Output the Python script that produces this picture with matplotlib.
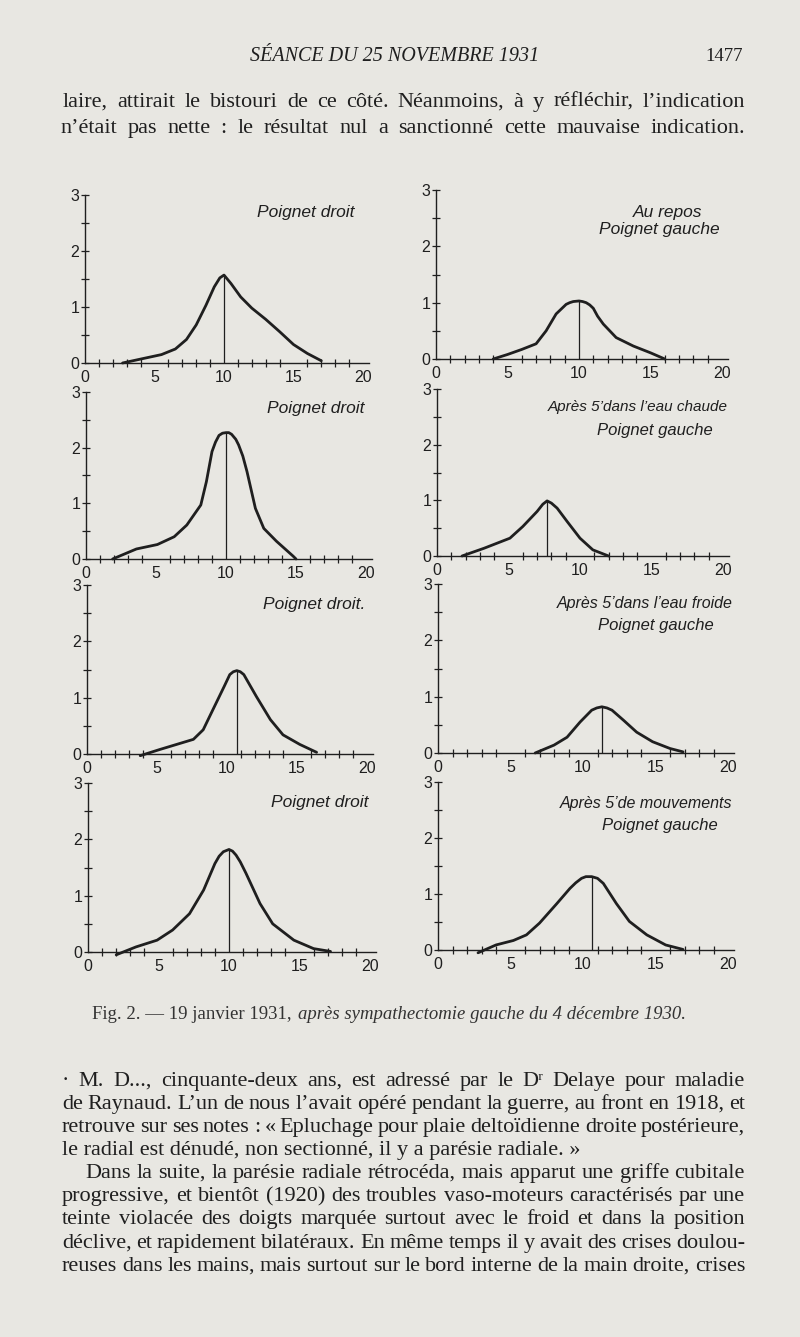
import matplotlib.pyplot as plt
from matplotlib.ticker import MultipleLocator

# --- curve data (x: 0-20 scale, y: 0-3 scale) ---
repos_droit_x = [2.7, 4.0, 5.5, 6.5, 7.3, 8.0, 8.7, 9.3, 9.7, 10.0, 10.5, 11.2, 12.0, 13.0, 14.0, 15.0, 16.0, 17.0]
repos_droit_y = [0.0, 0.07, 0.15, 0.25, 0.42, 0.68, 1.03, 1.36, 1.52, 1.57, 1.42, 1.18, 0.98, 0.78, 0.56, 0.33, 0.17, 0.04]
repos_gauche_x = [4.0, 5.0, 6.0, 7.0, 7.7, 8.4, 9.1, 9.35, 9.6, 10.0, 10.25, 10.5, 10.75, 11.0, 11.3, 11.7, 12.6, 13.8, 15.0, 16.0]
repos_gauche_y = [0.0, 0.08, 0.17, 0.27, 0.5, 0.8, 0.97, 1.0, 1.02, 1.03, 1.02, 1.0, 0.96, 0.9, 0.76, 0.62, 0.38, 0.23, 0.11, 0.0]

chaude_droit_x = [1.9, 3.6, 5.1, 6.3, 7.2, 8.2, 8.6, 9.0, 9.25, 9.5, 9.75, 10.0, 10.2, 10.4, 10.7, 10.9, 11.2, 11.5, 12.1, 12.7, 13.6, 14.8, 15.0]
chaude_droit_y = [0.0, 0.18, 0.26, 0.4, 0.61, 0.97, 1.39, 1.93, 2.1, 2.22, 2.26, 2.27, 2.27, 2.24, 2.15, 2.05, 1.85, 1.57, 0.91, 0.55, 0.32, 0.05, 0.0]
chaude_gauche_x = [1.75, 3.3, 5.1, 6.0, 7.0, 7.4, 7.7, 8.0, 8.4, 9.1, 10.0, 10.9, 12.0]
chaude_gauche_y = [0.0, 0.14, 0.32, 0.53, 0.8, 0.93, 0.99, 0.95, 0.86, 0.62, 0.32, 0.11, 0.0]

froide_droit_x = [3.8, 5.2, 6.4, 7.6, 8.3, 9.0, 9.8, 10.2, 10.45, 10.7, 10.95, 11.2, 12.1, 13.1, 14.0, 15.2, 16.4]
froide_droit_y = [-0.03, 0.08, 0.17, 0.26, 0.43, 0.79, 1.2, 1.41, 1.46, 1.48, 1.46, 1.41, 1.02, 0.61, 0.34, 0.17, 0.03]
froide_gauche_x = [6.7, 8.0, 8.9, 9.8, 10.6, 10.95, 11.3, 11.65, 12.0, 12.8, 13.7, 14.8, 16.0, 16.9]
froide_gauche_y = [0.0, 0.14, 0.28, 0.55, 0.76, 0.8, 0.82, 0.8, 0.76, 0.58, 0.37, 0.2, 0.08, 0.02]

mouv_droit_x = [2.0, 3.4, 4.9, 6.0, 7.2, 8.2, 9.0, 9.3, 9.6, 10.0, 10.25, 10.5, 10.8, 11.2, 12.2, 13.1, 14.6, 16.0, 17.2]
mouv_droit_y = [-0.05, 0.09, 0.21, 0.39, 0.68, 1.1, 1.57, 1.7, 1.78, 1.82, 1.79, 1.72, 1.6, 1.4, 0.86, 0.5, 0.21, 0.06, 0.01]
mouv_gauche_x = [2.76, 4.0, 5.2, 6.1, 7.0, 8.2, 9.1, 9.5, 9.9, 10.2, 10.6, 11.0, 11.4, 12.3, 13.2, 14.4, 15.7, 16.9]
mouv_gauche_y = [-0.05, 0.09, 0.17, 0.27, 0.48, 0.83, 1.1, 1.2, 1.28, 1.31, 1.31, 1.28, 1.19, 0.83, 0.51, 0.27, 0.09, 0.01]

# peak markers (vertical line under each summit)
peak_x = [10.0, 10.0, 10.0, 7.7, 10.7, 11.3, 10.0, 10.6]
peak_y = [1.57, 1.03, 2.27, 0.99, 1.48, 0.82, 1.82, 1.31]

labels = [
    ["Poignet droit"],
    ["Au repos", "Poignet gauche"],
    ["Poignet droit"],
    ["Après 5’dans l’eau chaude", "Poignet gauche"],
    ["Poignet droit."],
    ["Après 5’dans l’eau froide", "Poignet gauche"],
    ["Poignet droit"],
    ["Après 5’de mouvements", "Poignet gauche"],
]
curves = [
    (repos_droit_x, repos_droit_y), (repos_gauche_x, repos_gauche_y),
    (chaude_droit_x, chaude_droit_y), (chaude_gauche_x, chaude_gauche_y),
    (froide_droit_x, froide_droit_y), (froide_gauche_x, froide_gauche_y),
    (mouv_droit_x, mouv_droit_y), (mouv_gauche_x, mouv_gauche_y),
]

header = "SÉANCE DU 25 NOVEMBRE 1931"
page_no = "1477"
top_lines = [
    "laire, attirait le bistouri de ce côté. Néanmoins, à y réfléchir, l’indication",
    "n’était pas nette : le résultat nul a sanctionné cette mauvaise indication.",
]
caption_a = "Fig. 2. — 19 janvier 1931,"
caption_b = "après sympathectomie gauche du 4 décembre 1930."
bottom_lines = [
    "· M. D..., cinquante-deux ans, est adressé par le Dʳ Delaye pour maladie",
    "de Raynaud. L’un de nous l’avait opéré pendant la guerre, au front en 1918, et",
    "retrouve sur ses notes : « Epluchage pour plaie deltoïdienne droite postérieure,",
    "le radial est dénudé, non sectionné, il y a parésie radiale. »",
    "Dans la suite, la parésie radiale rétrocéda, mais apparut une griffe cubitale",
    "progressive, et bientôt (1920) des troubles vaso-moteurs caractérisés par une",
    "teinte violacée des doigts marquée surtout avec le froid et dans la position",
    "déclive, et rapidement bilatéraux. En même temps il y avait des crises doulou-",
    "reuses dans les mains, mais surtout sur le bord interne de la main droite, crises",
]

PAPER = "#e8e7e2"
INK = "#1f1f1f"
SERIF = ["Liberation Serif", "DejaVu Serif"]
SANS = ["Liberation Sans", "DejaVu Sans"]
W, H = 800, 1337

fig = plt.figure(figsize=(8, 13.37), dpi=100, facecolor=PAPER)
renderer = fig.canvas.get_renderer()


def fx(px):
    return px / W


def fy(py):
    return 1 - py / H


def put_line(text, x0, x1, y, size, justify=True, **kw):
    kw.setdefault("family", SERIF)
    kw.setdefault("color", INK)
    if not justify:
        return fig.text(fx(x0), fy(y), text, fontsize=size, va="baseline", **kw)
    words = text.split()
    objs = [fig.text(0, fy(y), w, fontsize=size, va="baseline", **kw) for w in words]
    widths = [o.get_window_extent(renderer).width for o in objs]
    gap = max((x1 - x0 - sum(widths)) / (len(words) - 1), 2)
    x = x0
    for o, w in zip(objs, widths):
        o.set_x(fx(x))
        x += w + gap


# page text
fig.text(fx(395), fy(61), header, fontsize=14.5, style="italic", family=SERIF,
         color=INK, ha="center", va="baseline")
fig.text(fx(743), fy(61), page_no, fontsize=13.5, family=SERIF, color=INK,
         ha="right", va="baseline")
put_line(top_lines[0], 63, 745, 107, 16)
put_line(top_lines[1], 60, 745, 133, 16)

# pixel layout of each panel: x of 0, x of 20, y of 0, y of 3
boxes = [
    (85, 363, 363, 195), (436, 722, 359, 190),
    (86, 366, 559, 392), (437, 723, 556, 389),
    (87, 367, 754, 585), (438, 728, 753, 584),
    (88, 370, 952, 783), (438, 728, 950, 782),
]
# label anchors in data units (x, y, ha, size) per line
label_pos = [
    [(19.4, 2.68, "right", 12.5)],
    [(16.2, 2.6, "center", 12.5), (15.6, 2.29, "center", 12.5)],
    [(19.9, 2.71, "right", 12.5)],
    [(20.3, 2.68, "right", 11), (19.3, 2.26, "right", 12)],
    [(19.9, 2.65, "right", 12.5)],
    [(20.3, 2.66, "right", 11.5), (19.0, 2.27, "right", 12)],
    [(19.9, 2.65, "right", 12.5)],
    [(20.3, 2.62, "right", 11.5), (19.3, 2.23, "right", 12)],
]

for i, (x0, x20, y0, y3) in enumerate(boxes):
    sx = (x20 - x0) / 20
    sy = (y0 - y3) / 3
    left, right = x0, x0 + 20.4 * sx
    top, bot = y3 - 0.08 * sy, y0 + 0.12 * sy
    ax = fig.add_axes([fx(left), fy(bot), (right - left) / W, (bot - top) / H])
    ax.set_facecolor("none")
    ax.set_xlim(0, 20.4)
    ax.set_ylim(-0.12, 3.08)
    for s in ["top", "right"]:
        ax.spines[s].set_visible(False)
    ax.spines["left"].set_bounds(0, 3)
    ax.spines["bottom"].set_position(("data", 0))
    ax.spines["bottom"].set_bounds(0, 20.4)
    for s in ["left", "bottom"]:
        ax.spines[s].set_color(INK)
        ax.spines[s].set_linewidth(1.0)
    ax.set_xticks([0, 5, 10, 15, 20])
    ax.xaxis.set_minor_locator(MultipleLocator(1))
    ax.set_yticks([0, 1, 2, 3])
    ax.yaxis.set_minor_locator(MultipleLocator(0.5))
    ax.tick_params(which="both", direction="inout", length=6, width=0.9, color=INK,
                   labelcolor=INK, labelsize=11.5)
    ax.tick_params(axis="x", which="major", length=0, pad=5)
    ax.tick_params(axis="y", which="major", length=6, pad=1)
    for t in ax.get_xticklabels() + ax.get_yticklabels():
        t.set_family(SANS)

    cx, cy = curves[i]
    ax.plot(cx, cy, color=INK, lw=2.0, solid_capstyle="round", solid_joinstyle="round")
    ax.vlines(peak_x[i], 0, peak_y[i], color=INK, lw=0.9)
    for txt, (tx, ty, ha, fs) in zip(labels[i], label_pos[i]):
        ax.text(tx, ty, txt, fontsize=fs, style="italic", ha=ha, va="center",
                color=INK, family=SANS)

# caption
cap = fig.text(fx(92), fy(1019), caption_a, fontsize=13.5, family=SERIF,
               color="#333333", va="baseline")
wa = cap.get_window_extent(renderer).width
fig.text(fx(92 + wa + 6), fy(1019), caption_b, fontsize=13.5, family=SERIF,
         style="italic", color="#333333", va="baseline")

# bottom paragraph
base = [1086, 1109, 1132, 1155, 1178, 1201, 1224, 1248, 1271]
for k, (line, y) in enumerate(zip(bottom_lines, base)):
    if k == 3:
        put_line(line, 62, 0, y, 16, justify=False)
    elif k == 4:
        put_line(line, 85, 745, y, 16)
    else:
        put_line(line, 62, 745, y, 16)

fig.savefig("out.png", dpi=100, facecolor=PAPER)
